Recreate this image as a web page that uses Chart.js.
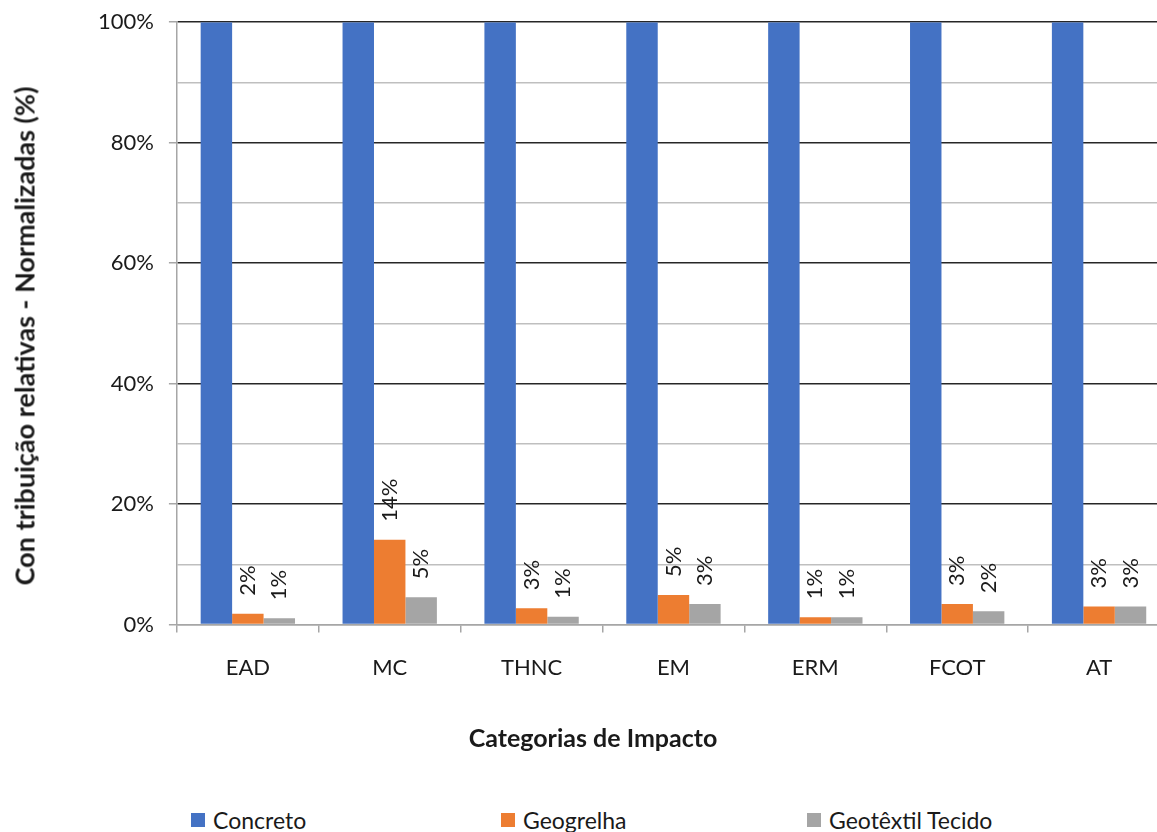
<!DOCTYPE html>
<html>
<head>
<meta charset="utf-8">
<script src="https://cdn.jsdelivr.net/npm/chart.js@4.4.1/dist/chart.umd.min.js"></script>
<style>
	body { margin: 0; overflow: hidden; background: #fff; font-family: Lato, sans-serif; color: #1a1a1a; }
	#wrap { position: absolute; left: 0; top: -6px; width: 1170px; height: 796px; }
	.axis-title {
		position: absolute; white-space: nowrap; font-weight: bold; line-height: 1;
	}
	#y-title { left: 24px; top: 336px; font-size: 27px; transform: translate(-50%, -50%) rotate(-90deg); }
	#x-title { left: 593px; top: 737px; font-size: 25px; transform: translate(-50%, -50%); }
	#legend {
		position: absolute; left: 191px; top: 806px;
		display: flex; font-size: 23px;
	}
	#legend span.item { display: flex; align-items: center; white-space: nowrap; }
	#legend span.box { display: inline-block; width: 14px; height: 14px; margin-right: 8px; }
</style>
</head>
<body>
<div id="wrap"><canvas id="chart"></canvas></div>
<div id="y-title" class="axis-title"></div>
<div id="x-title" class="axis-title"></div>
<div id="legend"></div>
<script>
const FONT = "Lato";
const CATEGORIES = ["EAD", "MC", "THNC", "EM", "ERM", "FCOT", "AT"];
const CONCRETO = [100, 100, 100, 100, 100, 100, 100];
const GEOGRELHA = [1.8, 14.1, 2.7, 4.9, 1.2, 3.4, 3.0];
const GEOTEXTIL = [1.05, 4.55, 1.3, 3.4, 1.2, 2.2, 3.0];
const SERIES_NAMES = ["Concreto", "Geogrelha", "Geotêxtil Tecido"];
const COLORS = ["#4472c4", "#ed7d31", "#a5a5a5"];
const LEGEND_ITEM_WIDTHS = [310, 306, null];
const Y_TITLE = "Con tribuição relativas - Normalizadas (%)";
const X_TITLE = "Categorias de Impacto";

// rotated value labels above the small bars
const barLabels = {
	id: "barLabels",
	afterDatasetsDraw(chart) {
		const ctx = chart.ctx;
		ctx.save();
		ctx.font = `22px ${FONT}`;
		ctx.fillStyle = "#1a1a1a";
		ctx.textAlign = "left";
		ctx.textBaseline = "middle";
		[1, 2].forEach((di) => {
			const meta = chart.getDatasetMeta(di);
			meta.data.forEach((bar, i) => {
				const v = chart.data.datasets[di].data[i];
				ctx.save();
				ctx.translate(bar.x, bar.y - 18);
				ctx.rotate(-Math.PI / 2);
				ctx.fillText(Math.round(v) + "%", 0, 0);
				ctx.restore();
			});
		});
		ctx.restore();
	},
};

const datasets = [CONCRETO, GEOGRELHA, GEOTEXTIL].map((d, i) => ({
	label: SERIES_NAMES[i],
	data: d,
	backgroundColor: COLORS[i],
	borderWidth: 0,
	barPercentage: 1,
	categoryPercentage: 0.665,
}));

new Chart(document.getElementById("chart"), {
	type: "bar",
	data: { labels: CATEGORIES, datasets: datasets },
	plugins: [barLabels],
	options: {
		responsive: true,
		maintainAspectRatio: false,
		animation: false,
		// room for the axis titles, which sit off-centre like in the original
		layout: { padding: { top: 8, right: 0, bottom: 87, left: 83 } },
		plugins: {
			legend: { display: false },
			tooltip: { enabled: false },
		},
		scales: {
			x: {
				grid: {
					offset: true,
					drawOnChartArea: false,
					drawTicks: true,
					tickLength: 8,
					tickColor: "#a6a6a6",
					lineWidth: 1.5,
				},
				border: { color: "#a6a6a6", width: 1.5 },
				ticks: {
					color: "#1a1a1a",
					font: { family: FONT, size: 22 },
					padding: 22,
					maxRotation: 0,
				},
			},
			y: {
				min: 0,
				max: 100,
				grid: {
					color: (c) =>
						c.tick.value === 0 ? "#a6a6a6" : c.tick.value % 20 === 0 ? "#262626" : "#bfbfbf",
					tickColor: (c) => (c.tick.value % 20 === 0 ? "#a6a6a6" : "rgba(0,0,0,0)"),
					tickLength: 8,
					lineWidth: 1.5,
				},
				border: { color: "#a6a6a6", width: 1.5 },
				ticks: {
					stepSize: 10,
					autoSkip: false,
					color: "#1a1a1a",
					font: { family: FONT, size: 22 },
					padding: 15,
					callback: (v) => (v % 20 === 0 ? v + "%" : ""),
				},
			},
		},
	},
});

document.getElementById("y-title").textContent = Y_TITLE;
document.getElementById("x-title").textContent = X_TITLE;

// legend below the chart
const legend = document.getElementById("legend");
SERIES_NAMES.forEach((name, i) => {
	const item = document.createElement("span");
	item.className = "item";
	if (LEGEND_ITEM_WIDTHS[i]) item.style.width = LEGEND_ITEM_WIDTHS[i] + "px";
	const box = document.createElement("span");
	box.className = "box";
	box.style.background = COLORS[i];
	item.appendChild(box);
	item.appendChild(document.createTextNode(name));
	legend.appendChild(item);
});
</script>
</body>
</html>
